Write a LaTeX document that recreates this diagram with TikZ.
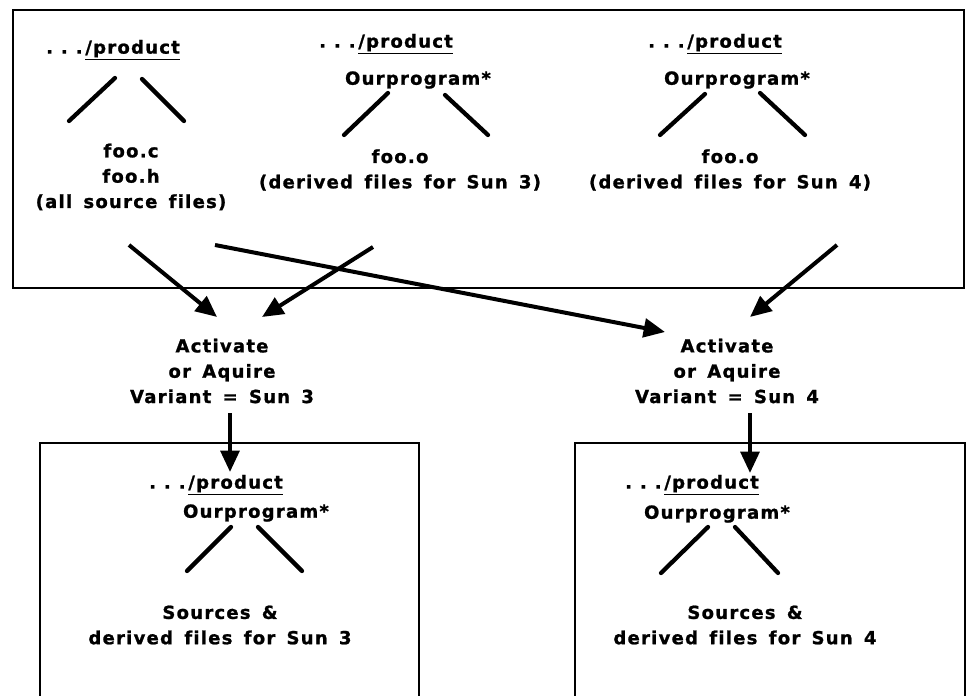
\documentclass[tikz,border=0pt]{standalone}
\usepackage{fontspec}
\setmainfont{DejaVu Sans}[BoldFont={DejaVu Sans Bold}, BoldFeatures={FakeBold=1.2}, Ligatures=NoCommon, LetterSpace=7, WordSpace=1.5]
\usepackage{tikz}
\usetikzlibrary{arrows.meta, positioning, calc}
\newcommand{\prodpath}{.\hspace{6pt}.\hspace{6pt}.\hspace{2pt}\underline{/product}}

\begin{document}
\begin{tikzpicture}[
  x=0.75pt, y=-0.75pt,
  font=\fontsize{13.5}{19}\selectfont\bfseries,
  lbl/.style={inner sep=2pt, align=center},
  frame/.style={draw, line width=2.2pt},
  branch/.style={line width=3.2pt, line cap=round},
  arr/.style={line width=3pt, -{Triangle[length=16pt, width=14pt]}},
]
\useasboundingbox (0,0) rectangle (969,695);

\draw[frame] (13,10) rectangle (964,288);
\draw[frame] (40,700) -- (40,443) -- (419,443) -- (419,700);
\draw[frame] (575,700) -- (575,443) -- (965,443) -- (965,700);

\node[lbl] (prodsrc) at (113,50) {\prodpath};
\node[lbl] (srcfiles) at (131,177) {foo.c\\foo.h\\(all source files)};

\node[lbl] (prodsun3) at (386,44) {\prodpath};
\node[lbl] (progsun3) at (418,80) {Ourprogram*};
\node[lbl] (objsun3) at (400,170) {foo.o\\(derived files for Sun 3)};

\node[lbl] (prodsun4) at (715,44) {\prodpath};
\node[lbl] (progsun4) at (737,80) {Ourprogram*};
\node[lbl] (objsun4) at (730,170) {foo.o\\(derived files for Sun 4)};

\node[lbl] (act3) at (222,371) {Activate\\or Aquire\\Variant = Sun 3};
\node[lbl] (act4) at (727,371) {Activate\\or Aquire\\Variant = Sun 4};

\node[lbl] (prodws3) at (216,485) {\prodpath};
\node[lbl] (progws3) at (256,513) {Ourprogram*};
\node[lbl] (outws3) at (220,625) {Sources \&\\derived files for Sun 3};

\node[lbl] (prodws4) at (692,485) {\prodpath};
\node[lbl] (progws4) at (717,514) {Ourprogram*};
\node[lbl] (outws4) at (745,625) {Sources \&\\derived files for Sun 4};

\draw[branch] ($(prodsrc)+(2,28)$) -- ++(-46,43);
\draw[branch] ($(prodsrc)+(29,29)$) -- ++(42,42);
\draw[branch] ($(progsun3)+(-30,13)$) -- ++(-44,42);
\draw[branch] ($(progsun3)+(27,15)$) -- ++(43,40);
\draw[branch] ($(progsun4)+(-32,14)$) -- ++(-45,41);
\draw[branch] ($(progsun4)+(23,13)$) -- ++(45,42);
\draw[branch] ($(progws3)+(-25,14)$) -- ++(-44,44);
\draw[branch] ($(progws3)+(2,14)$) -- ++(44,44);
\draw[branch] ($(progws4)+(-9,13)$) -- ++(-47,46);
\draw[branch] ($(progws4)+(18,13)$) -- ++(43,46);

\draw[arr] ($(srcfiles)+(-2,68)$) -- ($(act3)+(-5,-54)$);
\draw[arr] ($(objsun3)+(-27,77)$) -- ($(act3)+(40,-54)$);
\draw[arr] ($(srcfiles)+(84,68)$) -- ($(act4)+(-62,-39)$);
\draw[arr] ($(objsun4)+(107,75)$) -- ($(act4)+(23,-54)$);
\draw[arr] ($(act3)+(8,42)$) -- ($(prodws3)+(14,-13)$);
\draw[arr] ($(act4)+(23,42)$) -- ($(prodws4)+(58,-12)$);

\end{tikzpicture}
\end{document}
